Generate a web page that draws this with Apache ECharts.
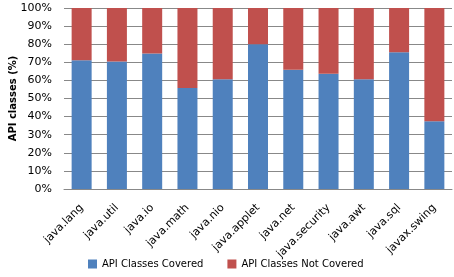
<!DOCTYPE html>
<html><head><meta charset="utf-8">
<script src="https://cdn.jsdelivr.net/npm/echarts@6/dist/echarts.min.js"></script>
<style>html,body{margin:0;padding:0;background:#fff}#c{width:454px;height:277px}</style>
</head><body><div id="c"></div>
<script>
const categories = ["java.lang","java.util","java.io","java.math","java.nio","java.applet","java.net","java.security","java.awt","java.sql","javax.swing"];
const covered = [71.2,70.5,74.9,55.8,60.7,80.0,65.9,63.7,60.6,75.6,37.4];
const notCovered = [28.8,29.5,25.1,44.2,39.3,20.0,34.1,36.3,39.4,24.4,62.6];
const seriesNames = ["API Classes Covered","API Classes Not Covered"];
const yTitle = "API classes (%)";

const chart = echarts.init(document.getElementById('c'), null, {renderer:'canvas'});
const font = "DejaVu Sans";
chart.setOption({
  animation:false,
  textStyle:{fontFamily:font},
  grid:{left:64,right:2,top:8,bottom:88,containLabel:false,outerBoundsMode:'none'},
  legend:{
    bottom:3,left:83,itemWidth:9,itemHeight:9,itemGap:24,icon:'rect',
    textStyle:{fontFamily:font,fontSize:10,color:'#000'},
    data:seriesNames
  },
  xAxis:{
    type:'category',data:categories,
    axisLine:{lineStyle:{color:'#888',width:1}},
    axisTick:{show:false},
    axisLabel:{rotate:45,fontFamily:font,fontSize:11,color:'#000',interval:0,margin:17}
  },
  yAxis:{
    type:'value',min:0,max:100,interval:10,
    name:yTitle,nameLocation:'middle',nameGap:46,nameMoveOverlap:false,
    nameTextStyle:{fontFamily:font,fontSize:10,fontWeight:'bold',color:'#000'},
    axisLine:{show:false},axisTick:{show:false},
    axisLabel:{formatter:'{value}%',fontFamily:font,fontSize:11,color:'#000',margin:12},
    splitLine:{lineStyle:{color:'#888',width:1}}
  },
  series:[
    {name:seriesNames[0],type:'bar',stack:'a',data:covered,barWidth:20,itemStyle:{color:'#4F81BD'}},
    {name:seriesNames[1],type:'bar',stack:'a',data:notCovered,barWidth:20,itemStyle:{color:'#C0504D'}}
  ]
});
</script></body></html>
